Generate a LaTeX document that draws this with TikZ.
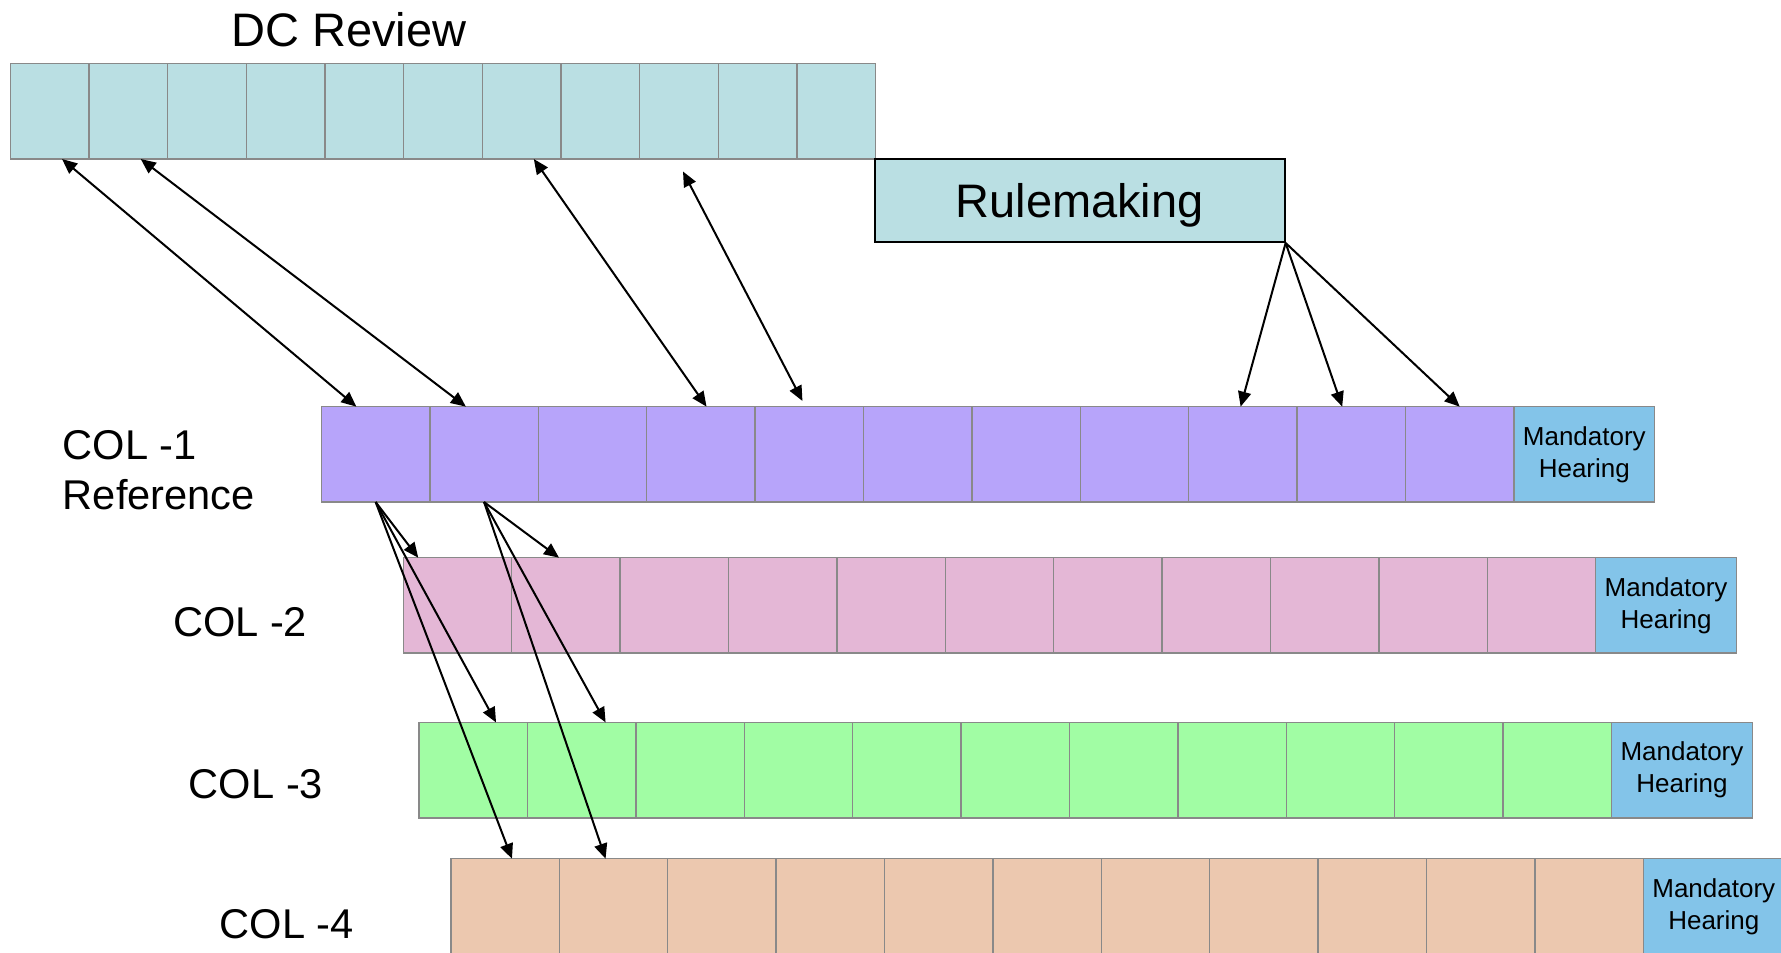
\documentclass[tikz,border=0pt]{standalone}
\usepackage{fontspec}
\setmainfont{Liberation Sans}
\usepackage{xcolor}
\usetikzlibrary{arrows.meta, positioning, calc}

\definecolor{dcblue}{RGB}{186,223,227}
\definecolor{colpurple}{RGB}{183,164,250}
\definecolor{colpink}{RGB}{228,183,214}
\definecolor{colgreen}{RGB}{161,253,164}
\definecolor{colpeach}{RGB}{236,200,175}
\definecolor{hearblue}{RGB}{131,196,233}
\definecolor{cellgray}{RGB}{137,137,137}

\begin{document}
\begin{tikzpicture}[
  x=0.5679pt, y=-0.5679pt,
  >={Triangle[length=7.5pt,width=6.5pt]},
  box/.style={draw=cellgray, line width=0.7pt, inner sep=0pt, outer sep=0pt, minimum height=47.7pt},
  dccell/.style={box, fill=dcblue, minimum width=39.34pt},
  colcell/.style={box, minimum width=54.2pt},
  hearing/.style={box, fill=hearblue, minimum width=70.4pt, align=center, font=\fontsize{13}{16}\selectfont},
  collabel/.style={inner sep=0pt, font=\fontsize{20.8}{25}\selectfont},
  link/.style={line width=1pt}
]
\useasboundingbox (0,0) rectangle (1568,839);

% DC review strip
\node[font=\fontsize{23.5}{28}\selectfont, anchor=base] (dctitle) at (307,41) {DC Review};
\node[dccell, anchor=north west] (dc1) at (9,56) {};
\foreach \cell [remember=\cell as \prev (initially 1)] in {2,...,11}
  \node[dccell, right=0pt of dc\prev] (dc\cell) {};

\node[draw=black, line width=1pt, fill=dcblue, minimum width=205pt, minimum height=41.5pt,
  text depth=0pt, font=\fontsize{23.5}{28}\selectfont] (rule) at (950.5,176.5) {Rulemaking};

% COL rows
\foreach \row/\lx/\ty/\tint in {1/283/358/colpurple, 2/355/491/colpink, 3/369/636/colgreen, 4/397/756/colpeach} {
  \node[colcell, fill=\tint, anchor=north west] (c\row-1) at (\lx,\ty) {};
  \foreach \cell [remember=\cell as \prev (initially 1)] in {2,...,11}
    \node[colcell, fill=\tint, right=0pt of c\row-\prev] (c\row-\cell) {};
  \node[hearing, right=0pt of c\row-11] (mh\row) {Mandatory\\Hearing};
}

\node[collabel, align=left, anchor=north west] (lab1) at (55,379) {COL -1\\Reference};
\node[collabel, anchor=base west] (lab2) at (152,560) {COL -2};
\node[collabel, anchor=base west] (lab3) at (166,703) {COL -3};
\node[collabel, anchor=base west] (lab4) at (193,826) {COL -4};

% DC <-> COL-1
\draw[link, <->] ($(dc1.south)+(11,0)$) -- ($(c1-1.north)+(-17,0)$);
\draw[link, <->] ($(dc2.south)+(11,0)$) -- ($(c1-2.north)+(-16,0)$);
\draw[link, <->] ($(dc7.south)+(10.7,0)$) -- ($(c1-4.north)+(5,0)$);
\draw[link, <->] ($(dc9.south)+(3.5,11)$) -- ($(c1-5.north)+(-6,-5)$);

% rulemaking
\draw[link, ->] (rule.south east) -- ($(c1-9.north)+(-2,0)$);
\draw[link, ->] (rule.south east) -- ($(c1-10.north)+(-8,0)$);
\draw[link, ->] (rule.south east) -- (c1-11.north);

% COL-1 to other COLs
\draw[link, ->] (c1-1.south) -- ($(c2-1.north)+(-34.5,0)$);
\draw[link, ->] (c1-1.south) -- ($(c3-1.north)+(20,0)$);
\draw[link, ->] (c1-1.south) -- ($(c4-1.north)+(6,0)$);
\draw[link, ->] (c1-2.south) -- ($(c2-2.north)+(-6,0)$);
\draw[link, ->] (c1-2.south) -- ($(c3-2.north)+(21,0)$);
\draw[link, ->] (c1-2.south) -- ($(c4-2.north)+(-7,0)$);
\end{tikzpicture}
\end{document}
